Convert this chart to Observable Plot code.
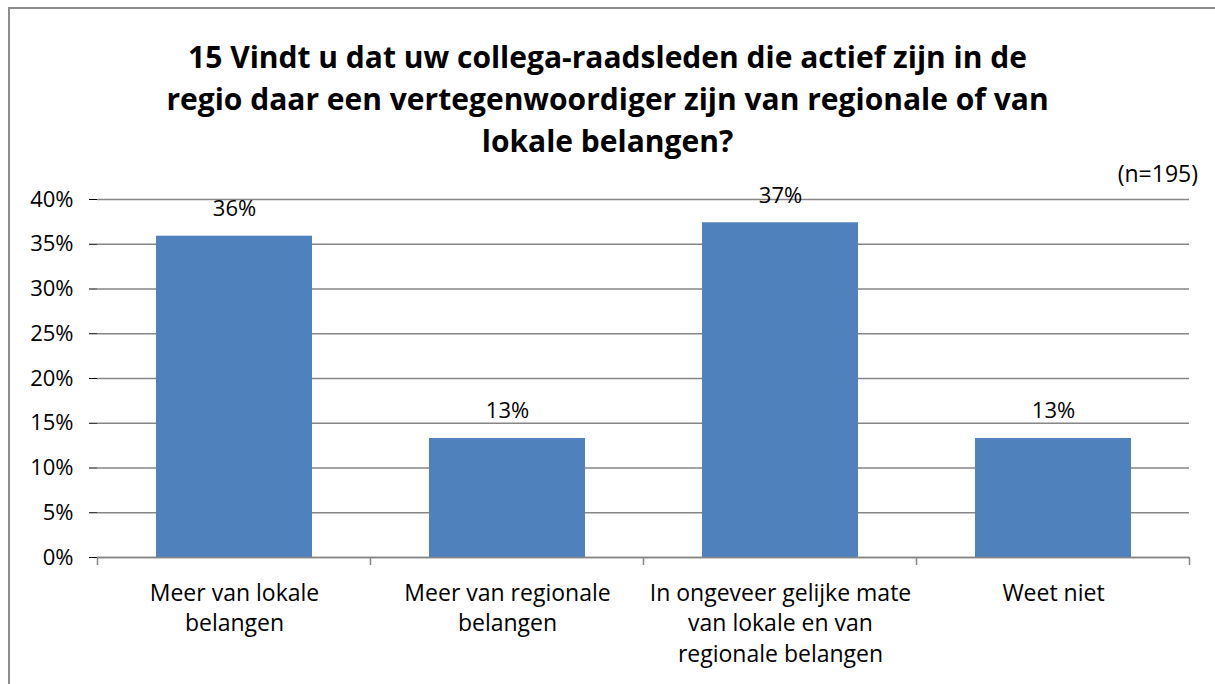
<!DOCTYPE html>
<html>
<head>
<meta charset="utf-8">
<script src="https://cdn.jsdelivr.net/npm/d3@7"></script>
<script src="https://cdn.jsdelivr.net/npm/@observablehq/plot@0.6"></script>
<style>
  html, body { margin: 0; padding: 0; background: #fff; }
  #wrap { position: relative; width: 1215px; height: 684px; overflow: hidden; font-family: "Open Sans", sans-serif; color: #000; }
  #frame { position: absolute; left: 8px; top: 7px; width: 1230px; height: 700px; border: 2px solid #8c8c8c; box-sizing: border-box; }
  #title { position: absolute; left: 9px; width: 1197px; top: 36px; text-align: center; font-weight: bold; font-size: 30px; line-height: 42px; }
  #n { position: absolute; right: 17px; top: 157px; font-size: 23px; }
  #chart { position: absolute; left: 0; top: 180px; }
</style>
</head>
<body>
<div id="wrap">
  <div id="frame"></div>
  <div id="title"></div>
  <div id="n"></div>
  <div id="chart"></div>
</div>
<script>
const titleLines = [
  "15 Vindt u dat uw collega-raadsleden die actief zijn in de",
  "regio daar een vertegenwoordiger zijn van regionale of van",
  "lokale belangen?"
];
const sampleNote = "(n=195)";
const categories = [
  "Meer van lokale\nbelangen",
  "Meer van regionale\nbelangen",
  "In ongeveer gelijke mate\nvan lokale en van\nregionale belangen",
  "Weet niet"
];
const values = [0.359, 0.133, 0.374, 0.133];
const yTicks = [0, 0.05, 0.10, 0.15, 0.20, 0.25, 0.30, 0.35, 0.40];

document.getElementById("title").innerHTML = titleLines.join("<br>");
document.getElementById("n").textContent = sampleNote;

const data = categories.map((c, i) => ({category: c, value: values[i]}));
const grey = "#868686";

// category boundary ticks drawn from the band scale
const boundaryTicks = (index, scales, values, dimensions) => {
  const x = scales.x;
  const step = x.step ? x.step() : 0;
  const bw = x.bandwidth ? x.bandwidth() : 0;
  const y0 = dimensions.height - dimensions.marginBottom;
  const g = d3.create("svg:g").attr("stroke", grey).attr("stroke-width", 1.5);
  const pos = categories.map(c => x(c) + bw / 2 - step / 2);
  pos.push(x(categories[categories.length - 1]) + bw / 2 + step / 2);
  for (const p of pos) {
    g.append("line").attr("x1", p).attr("x2", p).attr("y1", y0).attr("y2", y0 + 8);
  }
  return g.node();
};

const chart = Plot.plot({
  width: 1215,
  height: 504,
  marginLeft: 97,
  marginRight: 26,
  marginTop: 19,
  marginBottom: 127,
  style: { fontFamily: "Open Sans, sans-serif", fontSize: "22px", color: "#000", background: "transparent" },
  x: { domain: categories, paddingInner: 0.43, paddingOuter: 0.215, axis: null },
  y: { domain: [0, 0.4], ticks: yTicks, tickFormat: d => Math.round(d * 100) + "%", tickSize: 8, tickPadding: 16, label: null, line: false },
  marks: [
    Plot.ruleY(yTicks, { y: d => d, stroke: grey, strokeWidth: 1.5 }),
    Plot.ruleX([0], { frameAnchor: "left", stroke: grey, strokeWidth: 1.5 }),
    Plot.barY(data, { x: "category", y: "value", fill: "#4f81bd" }),
    Plot.ruleY([0], { stroke: grey, strokeWidth: 1.5 }),
    Plot.text(data, { x: "category", y: "value", text: d => Math.round(d.value * 100) + "%", lineAnchor: "bottom", dy: -20, fontSize: 22, fill: "#000" }),
    Plot.text(data, { x: "category", frameAnchor: "bottom", text: "category", lineAnchor: "top", dy: 22, lineHeight: 1.32, fontSize: 23, fill: "#000" }),
    boundaryTicks
  ]
});
document.getElementById("chart").appendChild(chart);
</script>
</body>
</html>
